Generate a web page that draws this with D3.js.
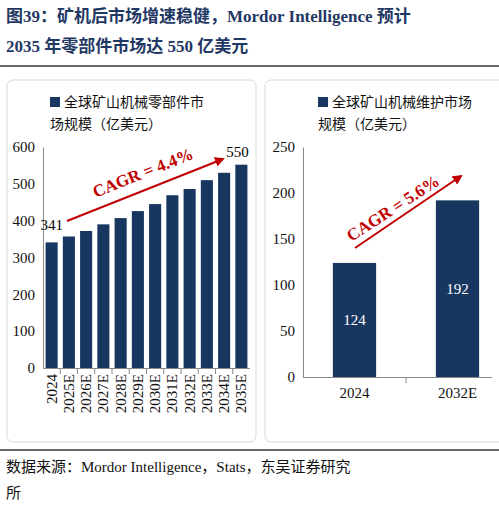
<!DOCTYPE html>
<html><head><meta charset="utf-8">
<script src="https://cdn.jsdelivr.net/npm/d3@7"></script>
<style>body{margin:0;background:#fff}</style>
</head><body><div id="chart"></div>
<script>
const leftYears=["2024","2025E","2026E","2027E","2028E","2029E","2030E","2031E","2032E","2033E","2034E","2035E"];
const leftValues=[341,357,372,390,407,426,445,469,486,510,530,552];
const leftTicks=[0,100,200,300,400,500,600];
const rightYears=["2024","2032E"];
const rightValues=[124,192];
const rightTicks=[0,50,100,150,200,250];

const W=499,H=511,navy="#173760",red="#c00000",titleC="#1f3864";
const serif="'Liberation Serif','Times New Roman','Noto Sans CJK SC',serif";
const svg=d3.select("#chart").append("svg").attr("width",W).attr("height",H).style("font-family",serif);
svg.append("defs").append("marker").attr("id","ah").attr("viewBox","0 0 10 10").attr("refX",8).attr("refY",5)
  .attr("markerWidth",5).attr("markerHeight",5).attr("orient","auto")
  .append("path").attr("d","M0,0L10,5L0,10z").attr("fill",red);

// title
svg.append("text").attr("x",6).attr("y",22).attr("font-size",17).attr("font-weight","bold").attr("fill",titleC)
  .text("图39：矿机后市场增速稳健，Mordor Intelligence 预计");
svg.append("text").attr("x",6).attr("y",52).attr("font-size",17).attr("font-weight","bold").attr("fill",titleC)
  .text("2035 年零部件市场达 550 亿美元");
svg.append("line").attr("x1",0).attr("x2",W).attr("y1",66).attr("y2",66).attr("stroke","#333").attr("stroke-width",1.5);
svg.append("line").attr("x1",0).attr("x2",W).attr("y1",450).attr("y2",450).attr("stroke","#333").attr("stroke-width",1.5);
svg.append("text").attr("x",6).attr("y",472).attr("font-size",15).attr("fill","#111")
  .text("数据来源：Mordor Intelligence，Stats，东吴证券研究");
svg.append("text").attr("x",6).attr("y",498).attr("font-size",15).attr("fill","#111").text("所");

// panel borders
svg.append("rect").attr("x",7).attr("y",80).attr("width",249).attr("height",362).attr("rx",6).attr("fill","none").attr("stroke","#d9d9d9");
svg.append("rect").attr("x",265).attr("y",80).attr("width",240).attr("height",362).attr("rx",6).attr("fill","none").attr("stroke","#d9d9d9");

function panel(cfg){
  const x=d3.scaleBand().domain(cfg.cats).range([cfg.x0,cfg.x1]).paddingInner(cfg.pi).paddingOuter(cfg.po);
  const y=d3.scaleLinear().domain([0,cfg.max]).range([cfg.base,147]);
  const g=svg.append("g");
  const ya=g.append("g").attr("transform",`translate(${cfg.x0},0)`).call(d3.axisLeft(y).tickValues(cfg.ticks).tickSize(0).tickPadding(8));
  ya.selectAll("text").attr("font-size",15).attr("font-family",serif).attr("fill","#111");
  ya.select(".domain").attr("stroke","#888");
  const xa=g.append("g").attr("transform",`translate(0,${cfg.base})`).call(d3.axisBottom(x).tickSize(6).tickSizeOuter(0));
  xa.select(".domain").attr("d",`M${cfg.x0},0.5H${cfg.xEnd}`).attr("stroke","#888");
  xa.selectAll(".tick line").attr("stroke","#888").attr("transform",`translate(${x.step()/2},0)`)
    .filter((d,i)=>i===cfg.cats.length-1).remove();
  const t=xa.selectAll("text").attr("font-size",15).attr("font-family",serif).attr("fill","#111");
  if(cfg.rot) t.attr("transform","rotate(-90)").attr("text-anchor","end").attr("dx",-4).attr("dy",5).attr("y",0).attr("x",-2);
  else t.attr("dy",12);
  g.selectAll("rect.b").data(cfg.vals).join("rect").attr("fill",navy)
    .attr("x",(d,i)=>x(cfg.cats[i])).attr("width",x.bandwidth()).attr("y",d=>y(d)).attr("height",d=>cfg.base-y(d));
  g.append("rect").attr("x",cfg.lx).attr("y",97).attr("width",10).attr("height",10).attr("fill",navy);
  cfg.leg.forEach((s,i)=>g.append("text").attr("x",cfg.lx+(i?0:14)).attr("y",107+i*22).attr("font-size",14).attr("fill","#111").text(s));
  return {x,y};
}
const L=panel({cats:leftYears,vals:leftValues,ticks:leftTicks,max:600,x0:43,x1:250,xEnd:250,pi:0.3,po:0.15,base:368,rot:true,lx:50,
  leg:["全球矿山机械零部件市","场规模（亿美元）"]});
svg.append("text").attr("x",L.x(leftYears[0])+L.x.bandwidth()/2).attr("y",L.y(leftValues[0])-12).attr("text-anchor","middle").attr("font-size",15).text(leftValues[0]);
svg.append("text").attr("x",L.x(leftYears[11])+L.x.bandwidth()/2-4).attr("y",L.y(leftValues[11])-8).attr("text-anchor","middle").attr("font-size",15).text(550);
svg.append("line").attr("x1",67).attr("y1",221).attr("x2",223).attr("y2",159).attr("stroke",red).attr("stroke-width",2).attr("marker-end","url(#ah)");
svg.append("text").attr("transform","translate(145,178) rotate(-21.7)").attr("text-anchor","middle").attr("font-size",17).attr("font-weight","bold").attr("fill",red).text("CAGR = 4.4%");

const R=panel({cats:rightYears,vals:rightValues,ticks:rightTicks,max:250,x0:303,x1:509,xEnd:492,pi:0.58,po:0.29,base:377,rot:false,lx:318,
  leg:["全球矿山机械维护市场","规模（亿美元）"]});
rightValues.forEach((v,i)=>svg.append("text").attr("x",R.x(rightYears[i])+R.x.bandwidth()/2).attr("y",R.y(v/2)+5)
  .attr("text-anchor","middle").attr("font-size",15).attr("fill","#fff").text(v));
svg.append("line").attr("x1",355).attr("y1",248).attr("x2",461).attr("y2",176).attr("stroke",red).attr("stroke-width",2).attr("marker-end","url(#ah)");
svg.append("text").attr("transform","translate(396,213) rotate(-33)").attr("text-anchor","middle").attr("font-size",17).attr("font-weight","bold").attr("fill",red).text("CAGR = 5.6%");
</script></body></html>
